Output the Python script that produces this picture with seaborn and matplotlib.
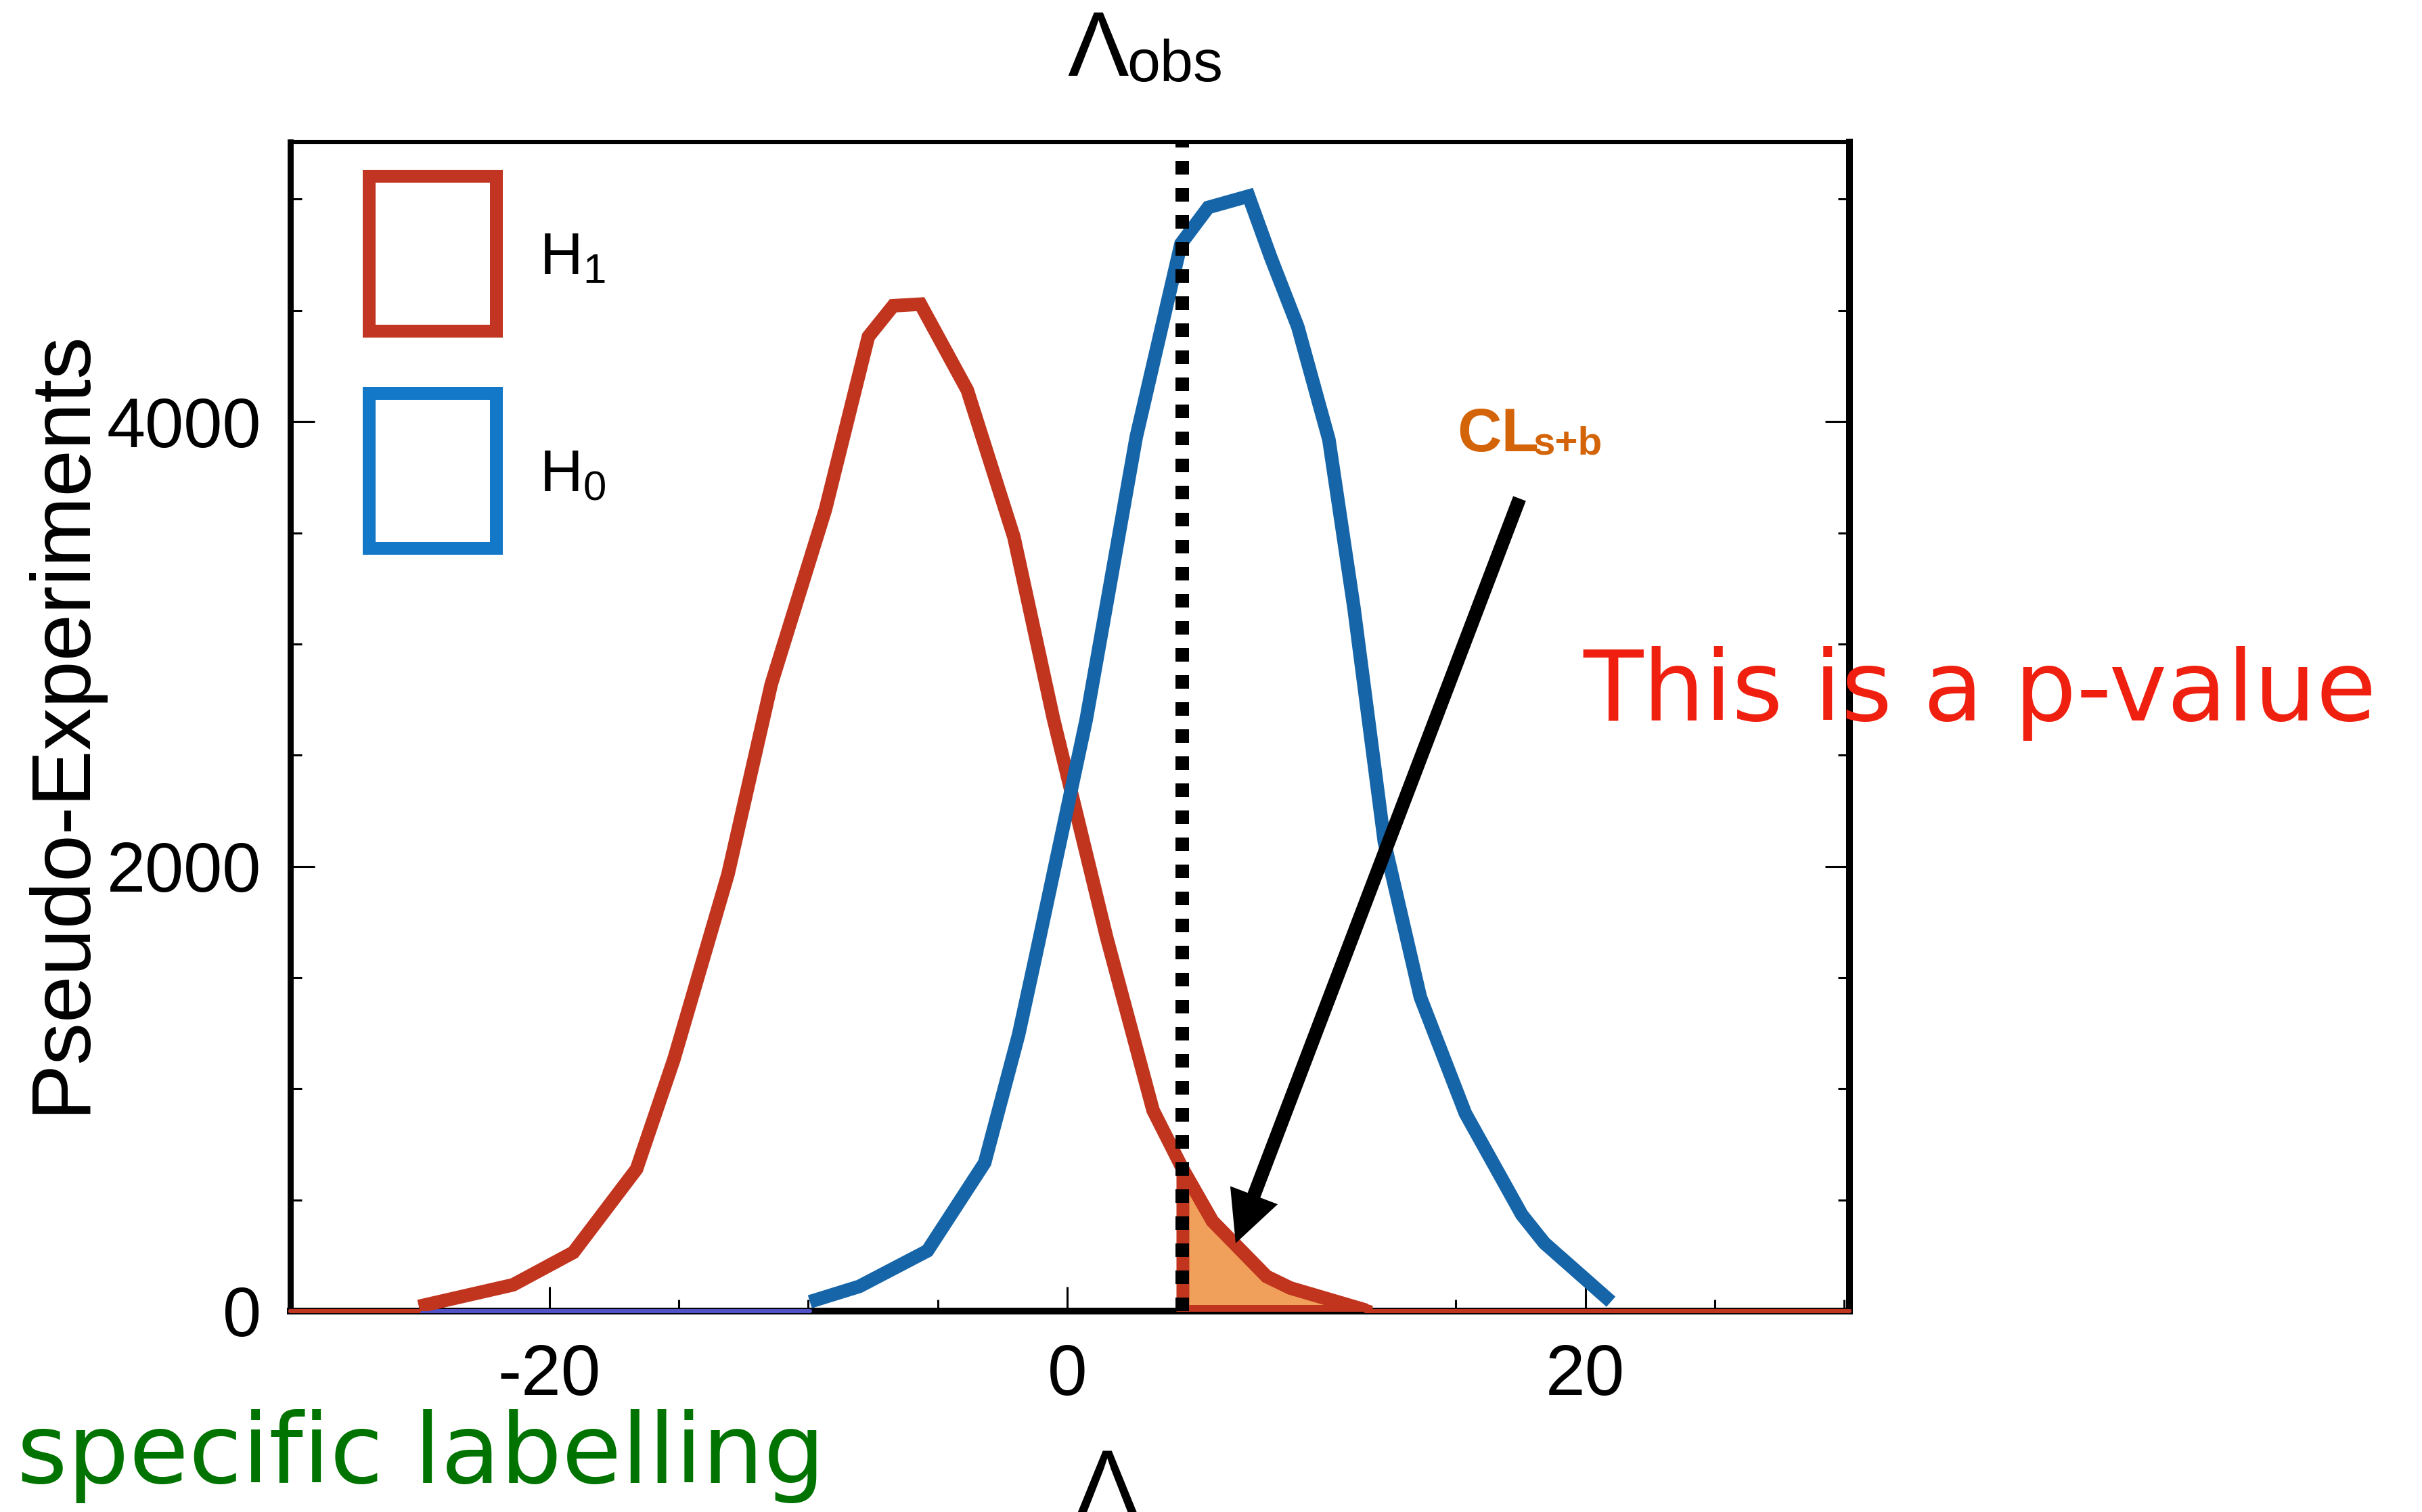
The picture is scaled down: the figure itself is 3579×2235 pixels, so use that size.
import numpy as np
import pandas as pd
import seaborn as sns
import matplotlib
matplotlib.use("Agg")
import matplotlib.pyplot as plt
from matplotlib.patches import Patch, Rectangle
from matplotlib.legend_handler import HandlerPatch
from matplotlib.ticker import MultipleLocator, FixedLocator

# ---------------- data ----------------
h1_x = [-25.04, -21.4, -19.07, -16.63, -15.19, -13.1, -11.43, -9.34, -7.68, -6.72,
        -5.67, -3.86, -2.06, -0.54, 1.52, 3.31, 4.45, 5.6, 7.69, 8.61, 11.53]
h1_y = [21, 118, 264, 639, 1132, 1965, 2819, 3604, 4382, 4521,
        4528, 4141, 3480, 2666, 1680, 903, 640, 405, 156, 104, 4]
h0_x = [-9.94, -8.03, -5.4, -3.19, -1.88, -1.19, 0.73, 2.66, 4.39, 5.44, 7.0,
        7.85, 8.9, 10.1, 11.07, 12.24, 13.63, 15.37, 17.55, 18.42, 20.99]
h0_y = [42, 111, 271, 667, 1243, 1613, 2660, 3930, 4800, 4963, 5014,
        4740, 4426, 3919, 3160, 2111, 1412, 889, 433, 306, 42]
lambda_obs = 4.45
x_limits = (-30.0, 30.2)
y_limits = (0, 5257)
x_major = [-20, 0, 20]
y_major = [0, 2000, 4000]
legend_labels = [r"$\mathregular{H_1}$", r"$\mathregular{H_0}$"]
arrow_tip = (6.5, 305)
arrow_tail = (17.46, 3654)

# ---------------- style ----------------
sns.set_theme(style="white")
plt.rcParams["font.family"] = ["Liberation Sans", "DejaVu Sans"]
plt.rcParams["mathtext.fontset"] = "custom"
plt.rcParams["mathtext.rm"] = "Liberation Sans"
plt.rcParams["mathtext.bf"] = "Liberation Sans:bold"
plt.rcParams["axes.unicode_minus"] = False

RED = "#C1351F"
BLUE = "#1565A8"
LEG_RED = "#C23522"
LEG_BLUE = "#1378C8"
ORANGE_FILL = "#F0A05A"

W, H, DPI = 3580, 2235, 200
PX = 72.0 / DPI  # points per pixel

def fx(px):
    return px / W

def fy(py):
    return 1 - py / H

fig = plt.figure(figsize=(W / DPI, H / DPI), dpi=DPI)
fig.patch.set_facecolor("white")
ax = fig.add_axes([fx(429), fy(1938), (2733 - 429) / W, (1938 - 210) / H])
ax.set_facecolor("white")

df1 = pd.DataFrame({"lam": h1_x, "n": h1_y})
df0 = pd.DataFrame({"lam": h0_x, "n": h0_y})

# thin zero-level parts of the histograms
ax.plot([x_limits[0], h0_x[0]], [0, 0], color="#5050C8", lw=2.2, zorder=3, clip_on=False)
ax.plot([h0_x[-1], x_limits[1]], [0, 0], color="#5050C8", lw=2.2, zorder=3, clip_on=False)
ax.plot([x_limits[0], h1_x[0]], [0, 0], color=RED, lw=2.2, zorder=3.1, clip_on=False)
ax.plot([h1_x[-1], x_limits[1]], [0, 0], color=RED, lw=2.2, zorder=3.1, clip_on=False)

# shaded tail (CL_s+b)
xs = np.array(h1_x)
ys = np.array(h1_y)
mask = xs >= lambda_obs
ax.fill_between(xs[mask], ys[mask], 0, facecolor=ORANGE_FILL, edgecolor=RED,
                linewidth=19 * PX, zorder=3.5, joinstyle="miter")

line_kw = dict(linewidth=20 * PX, sort=False, estimator=None, legend=False,
               solid_capstyle="butt", solid_joinstyle="miter")
sns.lineplot(data=df1, x="lam", y="n", color=RED, ax=ax, zorder=4, **line_kw)
sns.lineplot(data=df0, x="lam", y="n", color=BLUE, ax=ax, zorder=4.2, **line_kw)

# observed value
ax.axvline(lambda_obs, color="black", lw=20 * PX, linestyle=(0, (1, 1)),
           dash_capstyle="butt", zorder=6, clip_on=False)

# arrow
ax.annotate("", xy=arrow_tip, xytext=arrow_tail, annotation_clip=False,
            arrowprops=dict(facecolor="black", edgecolor="none", width=20 * PX,
                            headwidth=75 * PX, headlength=76 * PX, shrink=0),
            zorder=7)

# axes
ax.set_xlim(*x_limits)
ax.set_ylim(*y_limits)
ax.xaxis.set_major_locator(FixedLocator(x_major))
ax.xaxis.set_minor_locator(MultipleLocator(5))
ax.yaxis.set_major_locator(FixedLocator(y_major))
ax.yaxis.set_minor_locator(MultipleLocator(500))
ax.tick_params(axis="both", which="both", direction="in", top=False, right=True,
               bottom=True, left=True, colors="black", labelcolor="black")
ax.tick_params(which="major", length=13, width=1.1)
ax.tick_params(which="minor", length=6, width=1.1)
ax.tick_params(axis="x", which="major", labelsize=38, pad=17)
ax.tick_params(axis="y", which="major", labelsize=37, pad=15.5)
ax.grid(False)

for side, lw in (("left", 3.2), ("right", 3.6), ("bottom", 3.6), ("top", 2.2)):
    ax.spines[side].set_visible(True)
    ax.spines[side].set_color("black")
    ax.spines[side].set_linewidth(lw)

ax.set_xlabel("Λ", fontsize=48.8, color="black")
ax.xaxis.set_label_coords((1636 - 429) / 2304, (1938 - 2140) / 1728)
ax.set_ylabel("Pseudo-Experiments", fontsize=45, color="black")
ax.yaxis.set_label_coords((150 - 429) / 2304, (1938 - 1066) / 1728)

# ---------------- legend with open boxes ----------------
LEG_FS = 31.7
box_w = 188 * PX
box_h = 229 * PX
box_lw = 19 * PX

class BoxHandler(HandlerPatch):
    def create_artists(self, legend, orig_handle, xdescent, ydescent, width,
                       height, fontsize, trans):
        cy = 0.358 * fontsize
        r = Rectangle((-xdescent, cy - box_h / 2), box_w, box_h, facecolor="none",
                      edgecolor=orig_handle.get_edgecolor(), lw=box_lw,
                      joinstyle="miter", transform=trans)
        return [r]

handles = [Patch(facecolor="none", edgecolor=LEG_RED),
           Patch(facecolor="none", edgecolor=LEG_BLUE)]

def make_legend(anchor, ls):
    return ax.legend(handles, legend_labels, loc="upper left", bbox_to_anchor=anchor,
                     bbox_transform=fig.transFigure, frameon=False, fontsize=LEG_FS,
                     handlelength=box_w / LEG_FS, handleheight=1.0,
                     handletextpad=0.73, labelspacing=ls, borderpad=0,
                     borderaxespad=0, handler_map={Patch: BoxHandler()},
                     labelcolor="black")

anchor = (fx(544.5), fy(380))
ls = 2.5
leg = make_legend(anchor, ls)
fig.canvas.draw()
rend = fig.canvas.get_renderer()
b1 = leg.legend_handles[0].get_window_extent(rend)
b2 = leg.legend_handles[1].get_window_extent(rend)
pitch = (b1.y0 + b1.y1) / 2 - (b2.y0 + b2.y1) / 2
ls = ls + (321 - pitch) / (LEG_FS * DPI / 72)
dx = 544.5 - b1.x0
dy = (H - 259.5) - b1.y1
leg = make_legend((anchor[0] + dx / W, anchor[1] + dy / H), ls)

# ---------------- annotations ----------------
fig.text(fx(1577), fy(112), "Λ", fontsize=48.8, color="black", ha="left", va="baseline")
fig.text(fx(1665), fy(120), "obs", fontsize=31.7, color="black", ha="left", va="baseline")

fig.text(fx(2153), fy(667), "CL", fontsize=32.7, weight="bold", color="#D46408",
         ha="left", va="baseline")
fig.text(fx(2266), fy(672), "s+b", fontsize=21, weight="bold", color="#D46408",
         ha="left", va="baseline")

t_p = fig.text(fx(2339), fy(1065), "This is a p-value", fontsize=50,
               family=["DejaVu Sans"], color="#F02010", ha="left", va="baseline")
t_s = fig.text(fx(25), fy(2192), "specific labelling", fontsize=50,
               family=["DejaVu Sans"], color="#007300", ha="left", va="baseline")

fig.canvas.draw()
rend = fig.canvas.get_renderer()
for t, target in ((t_p, 1173), (t_s, 1195)):
    bb = t.get_window_extent(rend)
    t.set_fontsize(t.get_fontsize() * target / bb.width)

fig.savefig("out.png", dpi=DPI, facecolor="white")
